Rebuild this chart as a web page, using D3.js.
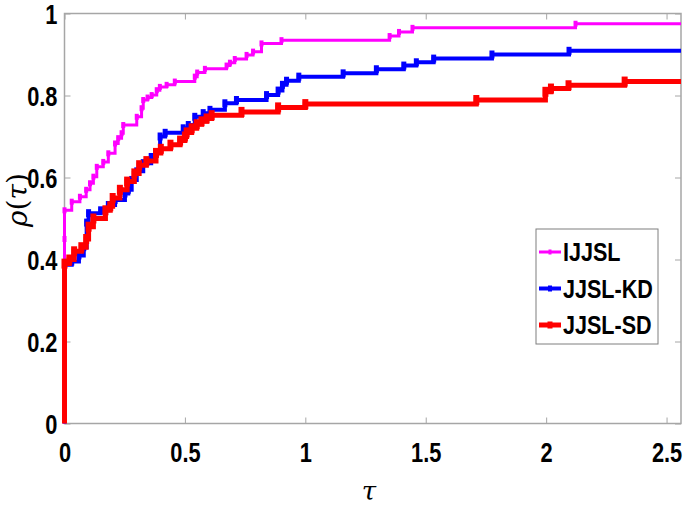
<!DOCTYPE html>
<html><head><meta charset="utf-8">
<script src="https://cdn.jsdelivr.net/npm/d3@7"></script>
<style>
html,body{margin:0;padding:0;background:#fff;}
svg{display:block;}
.tick-label{font-family:"Liberation Sans",Arial,sans-serif;font-weight:bold;font-size:28px;fill:#000;}
</style></head>
<body>
<svg id="chart" width="685" height="508"></svg>
<script>
// ---- data ----
const seriesNames = ["IJJSL", "JJSL-KD", "JJSL-SD"];
const seriesColors = ["#ff00ff", "#0000ff", "#ff0000"];
const tauIJJSL = [0,0,0,0,0.03,0.064,0.09,0.106,0.12,0.134,0.161,0.182,0.21,0.223,0.237,0.244,0.3,0.32,0.327,0.345,0.362,0.383,0.396,0.424,0.458,0.541,0.551,0.583,0.673,0.687,0.707,0.756,0.783,0.818,0.901,1.35,1.389,1.445,2.122,2.56];
const rhoIJJSL = [0,0.39,0.45,0.52,0.541,0.553,0.57,0.586,0.602,0.626,0.638,0.659,0.683,0.696,0.708,0.728,0.748,0.769,0.789,0.795,0.801,0.813,0.821,0.826,0.834,0.846,0.856,0.865,0.873,0.88,0.889,0.899,0.907,0.927,0.935,0.945,0.955,0.965,0.975,0.975];
const tauKD = [0,0,0.03,0.06,0.08,0.092,0.1,0.15,0.182,0.21,0.251,0.265,0.279,0.3,0.327,0.36,0.38,0.397,0.418,0.493,0.514,0.541,0.576,0.604,0.666,0.714,0.839,0.887,0.905,0.922,0.973,1.157,1.295,1.409,1.461,1.533,1.775,2.095,2.56];
const rhoKD = [0,0.387,0.395,0.41,0.43,0.49,0.513,0.52,0.533,0.545,0.561,0.57,0.594,0.615,0.635,0.65,0.66,0.7,0.709,0.72,0.728,0.748,0.757,0.765,0.781,0.789,0.801,0.812,0.826,0.836,0.846,0.854,0.864,0.873,0.881,0.89,0.9,0.909,0.909];
const tauSD = [0,0,0.02,0.04,0.07,0.09,0.1,0.12,0.17,0.19,0.2,0.23,0.26,0.29,0.31,0.34,0.38,0.4,0.44,0.48,0.5,0.507,0.528,0.549,0.569,0.59,0.611,0.735,0.887,1.0,1.71,1.997,2.02,2.093,2.326,2.56];
const rhoSD = [0,0.39,0.40,0.42,0.43,0.45,0.48,0.5,0.52,0.53,0.55,0.57,0.59,0.61,0.63,0.64,0.66,0.67,0.68,0.69,0.70,0.71,0.72,0.73,0.737,0.744,0.752,0.76,0.771,0.779,0.789,0.809,0.817,0.825,0.834,0.834];
const xTicks = [0, 0.5, 1, 1.5, 2, 2.5];
const xTickLabels = ["0", "0.5", "1", "1.5", "2", "2.5"];
const yTicks = [0, 0.2, 0.4, 0.6, 0.8, 1];
const yTickLabels = ["0", "0.2", "0.4", "0.6", "0.8", "1"];

const series = [
  {name: seriesNames[0], color: seriesColors[0], tau: tauIJJSL, rho: rhoIJJSL, width: 3},
  {name: seriesNames[1], color: seriesColors[1], tau: tauKD, rho: rhoKD, width: 4},
  {name: seriesNames[2], color: seriesColors[2], tau: tauSD, rho: rhoSD, width: 5}
];

// ---- layout ----
const svg = d3.select("#chart");
const L = 64.5, R = 681, T = 13.5, B = 423.5;
const x = d3.scaleLinear().domain([0, 2.56]).range([L, R]);
const y = d3.scaleLinear().domain([0, 1]).range([B, T]);
const gray = "#a6a6a6";
const SX = 0.78; // narrow bold font emulation

// box
svg.append("rect").attr("x", L).attr("y", T).attr("width", R - L).attr("height", B - T)
  .attr("fill", "none").attr("stroke", gray).attr("stroke-width", 1.5);

// axes (ticks inward)
const ax = svg.append("g").attr("transform", `translate(0,${B})`)
  .call(d3.axisBottom(x).tickValues(xTicks).tickSize(-6).tickFormat((d, i) => xTickLabels[i]));
const axTop = svg.append("g").attr("transform", `translate(0,${T})`)
  .call(d3.axisTop(x).tickValues(xTicks).tickSize(-6).tickFormat(""));
const ay = svg.append("g").attr("transform", `translate(${L},0)`)
  .call(d3.axisLeft(y).tickValues(yTicks).tickSize(-6).tickFormat((d, i) => yTickLabels[i]));
const ayR = svg.append("g").attr("transform", `translate(${R},0)`)
  .call(d3.axisRight(y).tickValues(yTicks).tickSize(-6).tickFormat(""));
[ax, axTop, ay, ayR].forEach(g => {
  g.select(".domain").remove();
  g.selectAll(".tick line").attr("stroke", gray).attr("stroke-width", 1);
  g.selectAll(".tick text").attr("class", "tick-label").attr("font-size", null).attr("font-family", null);
  g.attr("font-size", null).attr("font-family", null);
});
ax.selectAll(".tick text").attr("dy", null).attr("x", 0).attr("y", 39).attr("transform", `scale(${SX},1)`);
ay.selectAll(".tick text").attr("dy", "0.36em").attr("x", -7 / SX).attr("transform", `scale(${SX},1)`);

// lines
const line = d3.line().x(d => x(d[0])).y(d => y(d[1])).curve(d3.curveStepAfter);
const plot = svg.append("g");
series.forEach(s => {
  const pts = s.tau.map((t, i) => [t, s.rho[i]]);
  plot.append("path").datum(pts).attr("d", line)
    .attr("fill", "none").attr("stroke", s.color).attr("stroke-width", s.width)
    .attr("stroke-linejoin", "miter");
  plot.selectAll(null).data(pts.slice(1, -1)).enter().append("rect")
    .attr("x", d => x(d[0]) - s.width / 2 - 0.5)
    .attr("y", d => y(d[1]) - s.width)
    .attr("width", s.width + 1)
    .attr("height", s.width * 2)
    .attr("fill", s.color);
});

// axis labels
svg.append("text").attr("transform", "translate(27,200) rotate(-90)")
  .attr("text-anchor", "middle")
  .style("font-family", "'DejaVu Serif','Liberation Serif',serif").style("font-size", "28px")
  .html('<tspan font-style="italic">ρ</tspan>(<tspan font-style="italic">τ</tspan>)');
svg.append("text").attr("x", 369).attr("y", 500).attr("text-anchor", "middle")
  .style("font-family", "'DejaVu Serif','Liberation Serif',serif").style("font-size", "26px")
  .style("font-style", "italic").text("τ");

// legend
const lg = svg.append("g");
const LSX = 0.83;
lg.append("rect").attr("x", 536).attr("y", 229).attr("width", 122).attr("height", 115)
  .attr("fill", "#fff").attr("stroke", "#7f7f7f").attr("stroke-width", 1);
series.forEach((s, i) => {
  const yy = 252 + i * 36.5;
  lg.append("line").attr("x1", 539).attr("x2", 561).attr("y1", yy).attr("y2", yy)
    .attr("stroke", s.color).attr("stroke-width", s.width);
  lg.append("rect").attr("x", 550 - s.width / 2).attr("y", yy - s.width / 2 - 1)
    .attr("width", s.width).attr("height", s.width + 2).attr("fill", s.color);
  lg.append("text").attr("x", 563 / LSX).attr("y", yy).attr("dy", "0.36em")
    .attr("transform", `scale(${LSX},1)`)
    .attr("class", "tick-label").style("font-size", "26px").text(s.name);
});
</script>
</body></html>
